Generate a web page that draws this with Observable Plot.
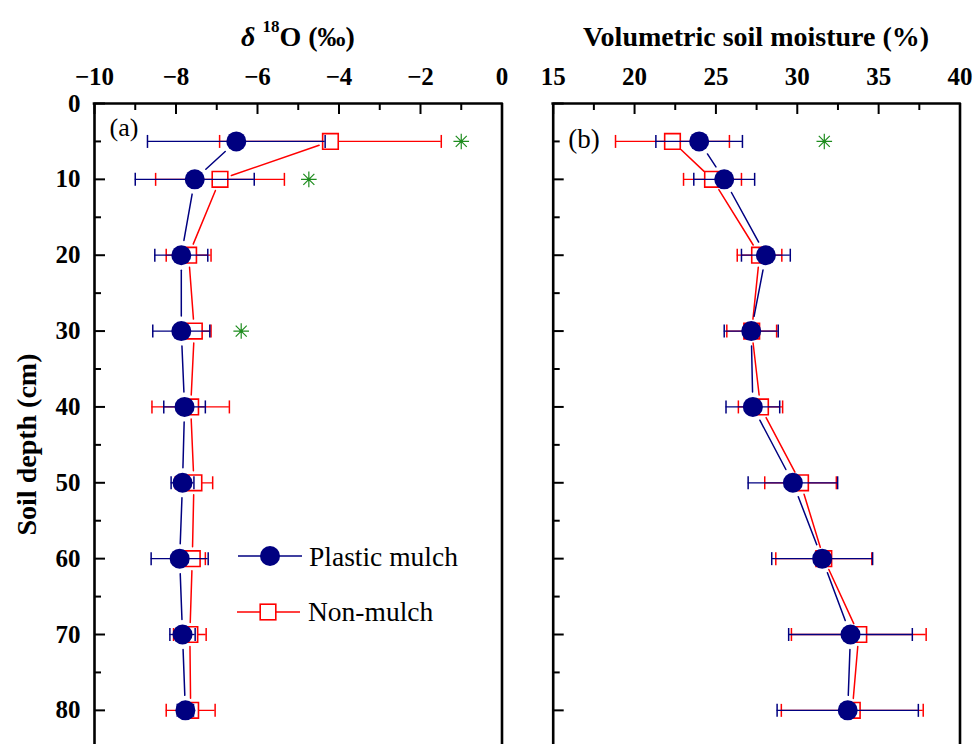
<!DOCTYPE html>
<html>
<head>
<meta charset="utf-8">
<script src="https://cdn.jsdelivr.net/npm/d3@7"></script>
<script src="https://cdn.jsdelivr.net/npm/@observablehq/plot@0.6"></script>
<style>
  html, body { margin: 0; padding: 0; background: #fff; }
  body { width: 975px; height: 744px; overflow: hidden; position: relative; font-family: "Liberation Serif", "Times New Roman", serif; }
  .title { position: absolute; top: 23px; font-weight: bold; font-size: 28px; line-height: 28px; white-space: nowrap; transform: translateX(-50%); color: #000; }
  .chart { position: absolute; top: 50px; }
  #legend { position: absolute; left: 0; top: 0; pointer-events: none; }
</style>
</head>
<body>
<div class="title" style="left:298px"><i>δ</i> <span style="font-size:17px;position:relative;top:-14px">18</span>O (‰)</div>
<div class="title" style="left:756px">Volumetric soil moisture (%)</div>
<div id="a" class="chart" style="left:0px"></div>
<div id="b" class="chart" style="left:520px"></div>
<svg id="legend" width="975" height="744" font-family="Liberation Serif, Times New Roman, serif">
  <line x1="238" y1="556" x2="302" y2="556" stroke="#000080" stroke-width="1.5"/>
  <circle cx="270" cy="556" r="10" fill="#000080"/>
  <text x="309" y="566" font-size="27.5">Plastic mulch</text>
  <line x1="237" y1="612" x2="300" y2="612" stroke="#ff0000" stroke-width="1.5"/>
  <rect x="260.2" y="604.2" width="15.6" height="15.6" fill="#fff" stroke="#ff0000" stroke-width="1.6"/>
  <text x="308" y="621" font-size="27.5">Non-mulch</text>
</svg>
<script>
// ---- data ----
const depths = [5, 10, 20, 30, 40, 50, 60, 70, 80];

const o18Plastic   = [-6.52, -7.54, -7.87, -7.87, -7.79, -7.84, -7.91, -7.84, -7.77];
const o18PlasticSd = [2.18, 1.46, 0.65, 0.70, 0.51, 0.28, 0.70, 0.31, 0.20];
const o18Non       = [-4.21, -6.92, -7.69, -7.55, -7.64, -7.56, -7.60, -7.66, -7.64];
const o18NonSd     = [2.72, 1.58, 0.55, 0.41, 0.95, 0.46, 0.32, 0.40, 0.60];
const o18StarDepth = [5, 10, 30];
const o18Star      = [-1.0, -4.74, -6.40];

const vsmPlastic   = [23.97, 25.51, 28.07, 27.17, 27.27, 29.73, 31.53, 33.27, 33.10];
const vsmPlasticSd = [2.66, 1.87, 1.50, 1.66, 1.65, 2.75, 3.10, 3.80, 4.34];
const vsmNon       = [22.33, 24.79, 27.68, 27.20, 27.74, 30.20, 31.63, 33.78, 33.38];
const vsmNonSd     = [3.50, 1.78, 1.37, 1.53, 1.36, 2.20, 2.95, 4.14, 4.36];
const vsmStarDepth = [5];
const vsmStar      = [31.66];

const o18Domain = [-10, 0];
const o18Ticks  = [-10, -8, -6, -4, -2, 0];
const o18Minor  = [-9, -7, -5, -3, -1];
const vsmDomain = [15, 40];
const vsmTicks  = [15, 20, 25, 30, 35, 40];
const vsmMinor  = [17.5, 22.5, 27.5, 32.5, 37.5];
const yDomain   = [0, 84.5];
const yTicks    = [0, 10, 20, 30, 40, 50, 60, 70, 80];
const yMinor    = [5, 15, 25, 35, 45, 55, 65, 75];

// ---- styling ----
const navy = "#000080", red = "#ff0000", green = "#1e8c1e";
const H = 694, MT = 53, MB = 0;
const font = "Liberation Serif, Times New Roman, serif";

const capSym = {draw(ctx, size) { const r = Math.sqrt(size / Math.PI); ctx.moveTo(0, -r); ctx.lineTo(0, r); }};
const starSym = {draw(ctx, size) {
  const r = Math.sqrt(size / Math.PI);
  for (let k = 0; k < 4; k++) { const a = k * Math.PI / 4, c = Math.cos(a) * r, s = Math.sin(a) * r; ctx.moveTo(c, s); ctx.lineTo(-c, -s); }
}};

function seriesMarks(vals, sds, color, kind) {
  const rows = depths.map((d, i) => ({depth: d, v: vals[i], lo: vals[i] - sds[i], hi: vals[i] + sds[i]}));
  const segs = d3.pairs(rows).map(([a, b]) => ({x1: a.v, y1: a.depth, x2: b.v, y2: b.depth}));
  const inset = kind === "circle" ? 15 : 12;
  return [
    Plot.arrow(segs, {x1: "x1", y1: "y1", x2: "x2", y2: "y2", stroke: color, strokeWidth: 1.5, headLength: 0, insetStart: inset, insetEnd: inset}),
    Plot.ruleY(rows, {y: "depth", x1: "lo", x2: "hi", stroke: color, strokeWidth: 1.3}),
    Plot.dot(rows, {x: "lo", y: "depth", symbol: capSym, r: 6.5, stroke: color, fill: "none", strokeWidth: 1.5}),
    Plot.dot(rows, {x: "hi", y: "depth", symbol: capSym, r: 6.5, stroke: color, fill: "none", strokeWidth: 1.5}),
    kind === "circle"
      ? Plot.dot(rows, {x: "v", y: "depth", r: 10, fill: color, stroke: "none"})
      : Plot.dot(rows, {x: "v", y: "depth", symbol: "square", r: 8.8, fill: "white", stroke: color, strokeWidth: 1.6})
  ];
}

function panel(o) {
  const innerW = o.width - o.marginLeft - o.marginRight;
  const innerH = H - MT - MB;
  const stars = o.starDepth.map((d, i) => ({depth: d, v: o.starVal[i]}));
  const marks = [
    ...seriesMarks(o.non, o.nonSd, red, "square"),
    ...seriesMarks(o.plastic, o.plasticSd, navy, "circle"),
    Plot.dot(stars, {x: "v", y: "depth", symbol: starSym, r: 7.8, stroke: green, strokeWidth: 1.2, fill: "none"}),
    Plot.dot(stars, {x: "v", y: "depth", r: 1.6, fill: green, stroke: "none"}),
    Plot.ruleX(o.xTicks, {insetBottom: innerH - 11, strokeWidth: 2}),
    Plot.ruleX(o.xMinor, {insetBottom: innerH - 7, strokeWidth: 2}),
    Plot.ruleY(yTicks, {insetRight: innerW - 11, strokeWidth: 2}),
    Plot.ruleY(yMinor, {insetRight: innerW - 7, strokeWidth: 2}),
    Plot.ruleX(o.xDomain, {strokeWidth: 2.6}),
    Plot.ruleY([0], {strokeWidth: 2.6, strokeLinecap: "square"}),
    Plot.axisX(o.xTicks, {anchor: "top", tickSize: 0, tickPadding: 19, label: null, fontSize: 25, fontWeight: "bold", fontFamily: font}),
    Plot.text([o.tag], {text: d => d, frameAnchor: "top-left", textAnchor: "start", lineAnchor: "top", dx: o.tagDx, dy: o.tagDy, fontSize: o.tagSize, fontWeight: "normal", fontFamily: font})
  ];
  if (o.yLabels) {
    marks.push(
      Plot.axisY(yTicks, {anchor: "left", tickSize: 0, tickPadding: 14, label: null, fontSize: 25, fontWeight: "bold", fontFamily: font}),
      Plot.text(["Soil depth (cm)"], {text: d => d, frameAnchor: "left", textAnchor: "middle", lineAnchor: "middle", rotate: -90, dx: -67, dy: 20.5, fontSize: 28, fontWeight: "bold", fontFamily: font})
    );
  }
  return Plot.plot({
    width: o.width, height: H,
    marginTop: MT, marginBottom: MB, marginLeft: o.marginLeft, marginRight: o.marginRight,
    x: {domain: o.xDomain, axis: null},
    y: {domain: yDomain, range: [MT, H - MB], axis: null},
    style: {fontFamily: font, fontSize: "25px", fontWeight: "bold", background: "transparent", overflow: "visible", color: "#000"},
    marks
  });
}

document.getElementById("a").append(panel({
  width: 520, marginLeft: 94, marginRight: 18.5,
  xDomain: o18Domain, xTicks: o18Ticks, xMinor: o18Minor,
  plastic: o18Plastic, plasticSd: o18PlasticSd, non: o18Non, nonSd: o18NonSd,
  starDepth: o18StarDepth, starVal: o18Star,
  tag: "(a)", tagSize: 26, tagDx: 15, tagDy: 14, yLabels: true
}));
document.getElementById("b").append(panel({
  width: 455, marginLeft: 32.7, marginRight: 15.5,
  xDomain: vsmDomain, xTicks: vsmTicks, xMinor: vsmMinor,
  plastic: vsmPlastic, plasticSd: vsmPlasticSd, non: vsmNon, nonSd: vsmNonSd,
  starDepth: vsmStarDepth, starVal: vsmStar,
  tag: "(b)", tagSize: 27, tagDx: 15, tagDy: 25, yLabels: false
}));
</script>
</body>
</html>
